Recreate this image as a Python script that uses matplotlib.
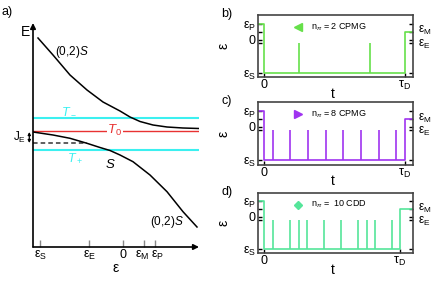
import numpy as np
import matplotlib
matplotlib.use('Agg')
import matplotlib.pyplot as plt
from matplotlib.transforms import blended_transform_factory, ScaledTranslation

plt.rcParams['font.family'] = ['Liberation Sans', 'DejaVu Sans']
plt.rcParams['mathtext.fontset'] = 'custom'
plt.rcParams['mathtext.rm'] = 'Liberation Sans'
plt.rcParams['mathtext.it'] = 'Liberation Sans:italic'
plt.rcParams['mathtext.bf'] = 'Liberation Sans:bold'

# --- panel a: energy diagram (detuning eps, energy E, arbitrary units)
eps_upper = [-8.53, -7.03, -5.33, -3.63, -2.03, -0.33, 0.67, 1.67, 2.97, 4.37, 5.97, 7.57]
E_upper = [9.3, 7.6, 5.6, 4.1, 2.9, 2.0, 1.4, 0.95, 0.6, 0.4, 0.3, 0.25]
eps_lower = [-9.03, -7.03, -5.33, -3.63, -2.33, -1.33, -0.33, 0.97, 2.67, 4.37, 5.97, 7.37]
E_lower = [-0.1, -0.4, -0.73, -1.23, -1.65, -1.95, -2.4, -3.07, -4.4, -6.07, -8.07, -9.6]
E_Tminus = 1.3
E_T0 = 0.0
E_Tplus = -1.9
E_JE = -1.2
eps_JE_end = -3.6
eps_ticks = [-8.3, -3.4, 0.0, 2.1, 3.2]
eps_labels = ['ε$_\\mathrm{S}$', 'ε$_\\mathrm{E}$', '0', 'ε$_\\mathrm{M}$', 'ε$_\\mathrm{P}$']

# --- panels b-d: pulse sequences (t in units of tau_D)
lev_P, lev_M, lev_0, lev_E, lev_S = 1.55, 0.75, 0.0, -0.35, -3.35
cpmg2 = [0.25, 0.75]
cpmg8 = [0.0625, 0.1875, 0.3125, 0.4375, 0.5625, 0.6875, 0.8125, 0.9375]
cdd10 = [0.064, 0.191, 0.255, 0.318, 0.441, 0.568, 0.691, 0.755, 0.814, 0.941]

CYAN = '#3cf0f0'
RED = '#e83232'

W, H = 443, 293
fig = plt.figure(figsize=(W / 100, H / 100), dpi=100)


def box(x0, y0, x1, y1):
    return [x0 / W, 1 - y1 / H, (x1 - x0) / W, (y1 - y0) / H]


# ---------------- panel a
ax = fig.add_axes(box(33, 23, 199, 247))
ax.set_xlim(-9.03, 7.57)
ax.set_ylim(-11.6, 10.8)
for s in ax.spines.values():
    s.set_visible(False)
ax.set_yticks([])
ax.set_xticks(eps_ticks, eps_labels, fontsize=9)
ax.tick_params(axis='x', direction='in', length=5, width=1, color='#888888', pad=1.5)
ax.set_xlabel('ε', fontsize=10, labelpad=-1)
# eps_M and eps_P sit close together: nudge them apart a little
tl = ax.get_xticklabels()
tl[3].set_transform(tl[3].get_transform() + ScaledTranslation(-2 / 100, 0, fig.dpi_scale_trans))
tl[4].set_transform(tl[4].get_transform() + ScaledTranslation(2 / 100, 0, fig.dpi_scale_trans))

arr = dict(arrowstyle='-|>', color='k', lw=1.2, mutation_scale=8, shrinkA=0, shrinkB=0)
ax.annotate('', xy=(1, 0), xytext=(0, 0), xycoords='axes fraction', arrowprops=arr)
ax.annotate('', xy=(0, 1), xytext=(0, 0), xycoords='axes fraction', arrowprops=arr)

ax.axhline(E_Tminus, color=CYAN, lw=1.5)
ax.axhline(E_Tplus, color=CYAN, lw=1.5)
ax.axhline(E_T0, color=RED, lw=1.0)
ax.plot([-9.03, eps_JE_end], [E_JE, E_JE], color='#333333', lw=1.1, ls=(0, (3, 2)))
ax.plot(eps_upper, E_upper, color='k', lw=1.1)
ax.plot(eps_lower, E_lower, color='k', lw=1.1)

ax.annotate('', xy=(-9.4, E_lower[0]), xytext=(-9.4, E_JE), xycoords='data',
            arrowprops=dict(arrowstyle='<|-|>', color='k', lw=0.9, mutation_scale=4,
                            shrinkA=0, shrinkB=0), annotation_clip=False)
ax.text(-9.7, -0.65, 'J$_\\mathrm{E}$', fontsize=8.5, ha='right', va='center', clip_on=False)

ax.text(-6.8, 7.9, '(0,2)$S$', fontsize=8.5, ha='left', va='center')
ax.text(2.7, -9.1, '(0,2)$S$', fontsize=8.5, ha='left', va='center')
ax.text(-6.2, 2.0, '$T_-$', fontsize=9, color=CYAN, ha='left', va='center')
ax.text(-1.6, 0.05, '$T_0$', fontsize=9.5, color=RED, ha='left', va='center',
        bbox=dict(facecolor='white', edgecolor='none', pad=0.3))
ax.text(-5.6, -2.75, '$T_+$', fontsize=9, color=CYAN, ha='left', va='center')
ax.text(-1.3, -3.3, '$S$', fontsize=9.5, ha='center', va='center')

fig.text(25 / W, 1 - 32 / H, 'E', fontsize=10, ha='center', va='center')
fig.text(1 / W, 1 - 12 / H, 'a)', fontsize=9, ha='left', va='center')

# ---------------- panels b-d
panels = [
    ('b)', box(258, 15, 413, 77), cpmg2, '#66e04a', '<', 6, 'n$_\\pi$ = 2 CPMG', (-0.043, 1.057)),
    ('c)', box(258, 102.3, 413, 164.5), cpmg8, '#a033f0', '>', 6, 'n$_\\pi$ = 8 CPMG', (-0.043, 1.057)),
    ('d)', box(258, 192.7, 413, 253.3), cdd10, '#55e59a', 'D', 4.5, 'n$_\\pi$ =  10 CDD', (-0.044, 1.096)),
]
levels = [lev_P, lev_M, lev_0, lev_E, lev_S]
for tag, pos, pulses, col, mk, ms, lab, xl in panels:
    a = fig.add_axes(pos)
    a.set_xlim(*xl)
    a.set_ylim(-3.75, 2.45)
    for s in a.spines.values():
        s.set_color('#444444')
        s.set_linewidth(1.2)
    a.plot([xl[0], 0, 0, 1, 1, xl[1]], [lev_P, lev_P, lev_S, lev_S, lev_M, lev_M], color=col, lw=1.2)
    a.vlines(pulses, lev_S, lev_E, color=col, lw=1.2)

    a.set_yticks(levels, ['ε$_\\mathrm{P}$', '', '0', '', 'ε$_\\mathrm{S}$'], fontsize=9)
    a.set_xticks([0, 1], ['0', 'τ$_\\mathrm{D}$'], fontsize=9)
    a.tick_params(direction='in', length=3, width=1, pad=1.5, right=True)

    tr = blended_transform_factory(a.transAxes, a.transData)
    a.text(1.03, lev_M + 0.12, 'ε$_\\mathrm{M}$', fontsize=8.5, ha='left', va='center', transform=tr)
    a.text(1.03, lev_E - 0.15, 'ε$_\\mathrm{E}$', fontsize=8.5, ha='left', va='center', transform=tr)

    a.set_ylabel('ε', fontsize=10)
    a.yaxis.set_label_coords(-0.18, 0.5)
    a.set_xlabel('t', fontsize=10)
    a.xaxis.set_label_coords(0.48, -0.16)

    a.plot([0.258], [0.805], marker=mk, color=col, ms=ms, transform=a.transAxes, clip_on=False)
    a.text(0.34, 0.805, lab, fontsize=6.5, ha='left', va='center', transform=a.transAxes)
    fig.text(pos[0] - 37 / W, pos[1] + pos[3] + 1 / H, tag, fontsize=9, ha='left', va='center')

fig.savefig('out.png', dpi=100)
